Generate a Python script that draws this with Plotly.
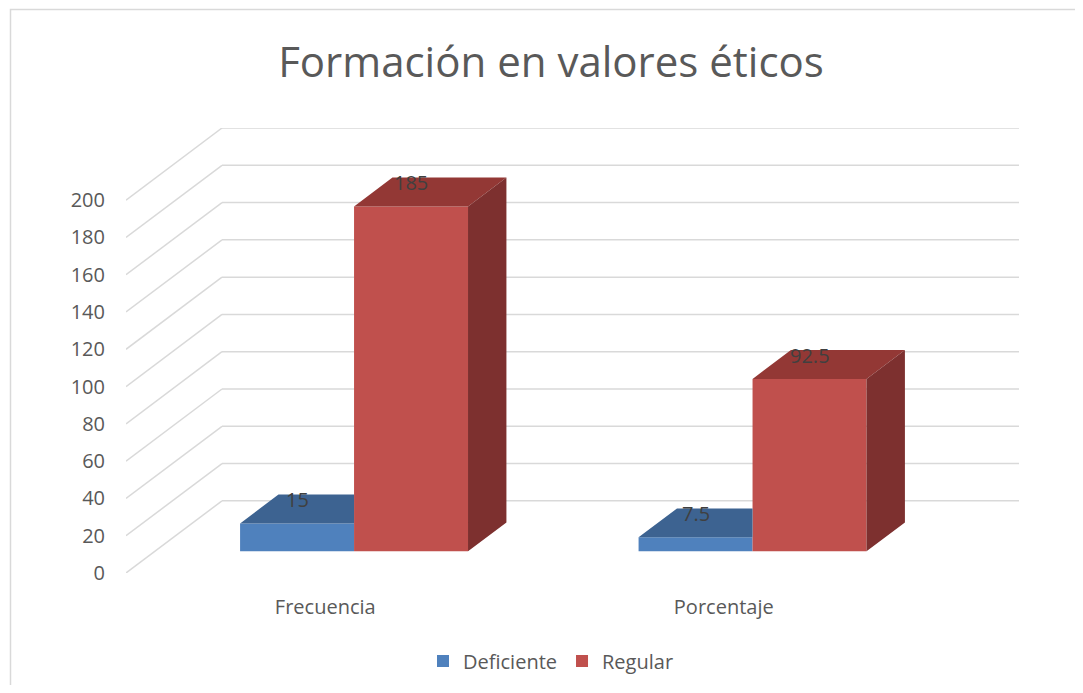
import plotly.graph_objects as go

# ---------------- data ----------------
categories = ["Frecuencia", "Porcentaje"]
series_names = ["Deficiente", "Regular"]
deficiente = [15, 7.5]
regular = [185, 92.5]
y_ticks = [0, 20, 40, 60, 80, 100, 120, 140, 160, 180, 200]
title_text = "Formación en valores éticos"

series_values = [deficiente, regular]
front_colors = ["#4F81BD", "#C0504D"]
top_colors = ["#3D6391", "#933835"]
side_colors = ["#30507A", "#7D302F"]

# ---------------- 3D geometry (in axis units) ----------------
W = 0.286              # bar width (category units)
DX, DY = 0.2409, 38.7  # full depth offset of the floor (x units, value units)
F0, F1 = 0.30, 0.70    # bar front/back position within the depth
dd, dv = (F1 - F0) * DX, (F1 - F0) * DY
b0 = F0 * DY
x_min, x_max = -0.5, len(categories) - 0.5 + DX
y_max = y_ticks[-1] + DY

# page has an 8px body margin; work in figure pixels
OFF = 8
FIG_W, FIG_H = 1083 - 2 * OFF, 693 - 2 * OFF
PLOT_L = 126 - OFF
PLOT_T = 128 - OFF
PLOT_R = FIG_W - (1019 - OFF)
PLOT_B = FIG_H - (573 - OFF)
pw = FIG_W - PLOT_L - PLOT_R
ph = FIG_H - PLOT_T - PLOT_B


def px_to_paper_x(px):
    return (px - OFF - PLOT_L) / pw


def px_to_paper_y(py):
    return (PLOT_T + ph - (py - OFF)) / ph


fig = go.Figure()

# gridlines (left diagonal wall + back wall), behind everything
grid_color = "#D9D9D9"
shapes = []
for t in y_ticks:
    shapes.append(dict(type="line", xref="x", yref="y", x0=x_min, y0=t,
                       x1=x_min + DX, y1=t + DY, layer="below",
                       line=dict(color=grid_color, width=1.5)))
    shapes.append(dict(type="line", xref="x", yref="y", x0=x_min + DX, y0=t + DY,
                       x1=x_max, y1=t + DY, layer="below",
                       line=dict(color=grid_color, width=1.5)))

# chart border (top & left visible)
shapes.append(dict(type="rect", xref="paper", yref="paper",
                   x0=px_to_paper_x(10.5), x1=px_to_paper_x(1110),
                   y0=px_to_paper_y(720), y1=px_to_paper_y(9.5),
                   line=dict(color="#D9D9D9", width=1.5), fillcolor="rgba(0,0,0,0)",
                   layer="below"))

annotations = []
n_series = len(series_values)
for s, (name, vals) in enumerate(zip(series_names, series_values)):
    xs = [i + (s - 0.5) * W + F0 * DX for i in range(len(categories))]
    # front faces
    fig.add_trace(go.Bar(x=xs, y=vals, base=b0, width=W, name=name,
                         marker=dict(color=front_colors[s], line=dict(width=0)),
                         hoverinfo="name+y"))
    top_x, top_y, side_x, side_y = [], [], [], []
    for i, (xc, v) in enumerate(zip(xs, vals)):
        xl, xr = xc - W / 2, xc + W / 2
        t = b0 + v
        occluded = s < n_series - 1 and series_values[s + 1][i] >= v + dv
        if occluded:
            top_x += [xl, xr, xr, xl + dd, xl, None]
            top_y += [t, t, t + dv, t + dv, t, None]
        else:
            top_x += [xl, xr, xr + dd, xl + dd, xl, None]
            top_y += [t, t, t + dv, t + dv, t, None]
            side_x += [xr, xr, xr + dd, xr + dd, xr, None]
            side_y += [b0, t, t + dv, b0 + dv, b0, None]
        annotations.append(dict(x=xc, y=t + dv, xref="x", yref="y", text=f"{v:g}",
                                showarrow=False, yshift=-5,
                                font=dict(family="Open Sans", size=20, color="#404040")))
    fig.add_trace(go.Scatter(x=top_x, y=top_y, mode="lines", fill="toself",
                             fillcolor=top_colors[s], line=dict(width=0, color=top_colors[s]),
                             showlegend=False, hoverinfo="skip"))
    if side_x:
        fig.add_trace(go.Scatter(x=side_x, y=side_y, mode="lines", fill="toself",
                                 fillcolor=side_colors[s], line=dict(width=0, color=side_colors[s]),
                                 showlegend=False, hoverinfo="skip"))

fig.update_layout(
    width=FIG_W, height=FIG_H,
    margin=dict(l=PLOT_L, r=PLOT_R, t=PLOT_T, b=PLOT_B, autoexpand=False),
    paper_bgcolor="white", plot_bgcolor="rgba(0,0,0,0)",
    barmode="overlay",
    font=dict(family="Open Sans", color="#595959"),
    title=dict(text=title_text, x=(551 - OFF) / FIG_W, xref="container", xanchor="center",
               y=1 - (62 - OFF) / FIG_H, yref="container", yanchor="middle",
               font=dict(family="Open Sans", size=42, color="#595959")),
    xaxis=dict(range=[x_min, x_max], tickvals=list(range(len(categories))),
               ticktext=categories, showgrid=False, zeroline=False, showline=False,
               ticks="", ticklabelstandoff=20,
               tickfont=dict(family="Open Sans", size=20, color="#595959")),
    yaxis=dict(range=[0, y_max], tickvals=y_ticks, showgrid=False, zeroline=False,
               showline=False, ticks="", ticklabelstandoff=20,
               tickfont=dict(family="Open Sans", size=20, color="#595959")),
    legend=dict(orientation="h", x=px_to_paper_x(551), xanchor="center",
                y=px_to_paper_y(661), yanchor="middle",
                font=dict(family="Open Sans", size=20, color="#595959"),
                bgcolor="rgba(0,0,0,0)", traceorder="normal"),
    shapes=shapes, annotations=annotations,
)

fig.write_html("out.html")
